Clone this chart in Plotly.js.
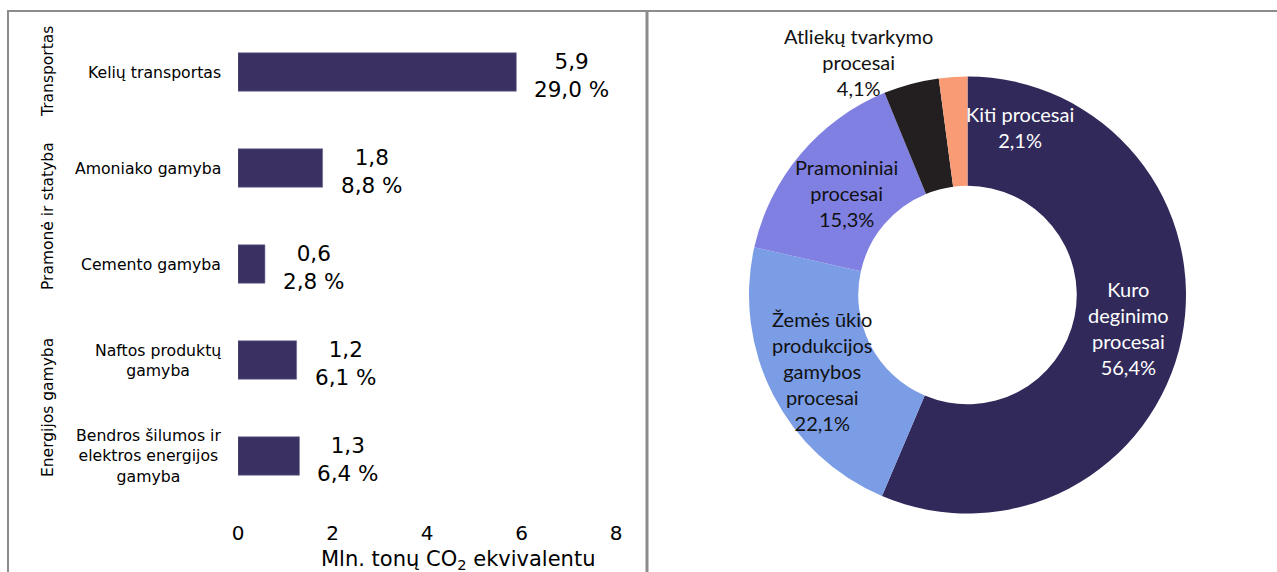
<!DOCTYPE html>
<html>
<head>
<meta charset="utf-8">
<script src="https://cdn.plot.ly/plotly-3.0.1.min.js"></script>
<style>html,body{margin:0;padding:0;background:#fff;}#chart{width:1277px;height:572px;}</style>
</head>
<body>
<div id="chart"></div>
<script>
// ---- Data: left bar chart ----
const categories = ['Kelių transportas', 'Amoniako gamyba', 'Cemento gamyba', 'Naftos produktų<br>gamyba', 'Bendros šilumos ir<br>elektros energijos<br>gamyba'];
const emissions = [5.89, 1.79, 0.57, 1.24, 1.30];      // Mln. tonų CO2 ekv.
const shares = [29.0, 8.8, 2.8, 6.1, 6.4];              // %
const groups = ['Transportas', 'Pramonė ir statyba', 'Energijos gamyba'];
const groupMembers = [[0, 0], [1, 2], [3, 4]];          // first and last category index of each group
const xTickVals = [0, 2, 4, 6, 8];
const xTitle = 'Mln. tonų CO<sub>2</sub> ekvivalentu';

// ---- Data: right donut chart ----
const pieLabels = ['Kuro<br>deginimo<br>procesai', 'Žemės ūkio<br>produkcijos<br>gamybos<br>procesai', 'Pramoniniai<br>procesai', 'Atliekų tvarkymo<br>procesai', 'Kiti procesai'];
const pieShares = [56.4, 22.1, 15.3, 4.1, 2.1];

// ---- Layout helpers ----
const W = 1277, H = 572;
const px = x => x / W;
const py = y => (H - y) / H;
const fmt = v => v.toFixed(1).replace('.', ',');

const barColor = '#3a3162';
const pieColors = ['#30295a', '#7b9de6', '#8080e2', '#231f20', '#f99c76'];
const pieTextColors = ['#ffffff', '#111111', '#111111', '#111111', '#ffffff'];
// label centres (px) for pie labels
const pieLabelPos = [[1128, 328], [822, 371], [847, 193], [858, 62], [1020, 127]];

const barTrace = {
  type: 'bar',
  orientation: 'h',
  x: emissions,
  y: categories,
  width: 0.4,
  marker: {color: barColor, line: {color: '#6d6690', width: 0.6}},
  hoverinfo: 'none',
  xaxis: 'x', yaxis: 'y',
  showlegend: false
};

const pieTrace = {
  type: 'pie',
  values: pieShares,
  labels: pieLabels,
  sort: false,
  direction: 'clockwise',
  rotation: 0,
  hole: 0.5,
  marker: {colors: pieColors, line: {color: '#ffffff', width: 0}},
  textinfo: 'none',
  hoverinfo: 'none',
  showlegend: false,
  domain: {x: [px(749), px(1186)], y: [py(513.5), py(76.5)]}
};

const annotations = [];
// bar value labels
emissions.forEach((v, i) => {
  annotations.push({
    x: v, y: i, xref: 'x', yref: 'y',
    text: fmt(v) + '<br>' + fmt(shares[i]) + ' %',
    xanchor: 'left', yanchor: 'middle', xshift: 16, yshift: -3,
    align: 'center', showarrow: false,
    font: {family: 'DejaVu Sans, Verdana, sans-serif', size: 21.5, color: '#000'}
  });
});
// category labels
categories.forEach((c, i) => {
  annotations.push({
    x: px(223), y: i, xref: 'paper', yref: 'y',
    text: c, xanchor: 'right', yanchor: 'middle', align: 'center', showarrow: false,
    font: {family: 'DejaVu Sans, Verdana, sans-serif', size: 15.7, color: '#000'}
  });
});
// group labels
groups.forEach((g, k) => {
  annotations.push({
    x: px(48), y: (groupMembers[k][0] + groupMembers[k][1]) / 2, xref: 'paper', yref: 'y',
    text: g, textangle: -90, xanchor: 'center', yanchor: 'middle', showarrow: false,
    font: {family: 'DejaVu Sans, Verdana, sans-serif', size: 15.5, color: '#000'}
  });
});
// x-axis title
annotations.push({
  x: px(458), y: py(560), xref: 'paper', yref: 'paper',
  text: xTitle, xanchor: 'center', yanchor: 'middle', showarrow: false,
  font: {family: 'DejaVu Sans, Verdana, sans-serif', size: 21, color: '#000'}
});
// pie labels
pieLabels.forEach((l, i) => {
  annotations.push({
    x: px(pieLabelPos[i][0]), y: py(pieLabelPos[i][1]), xref: 'paper', yref: 'paper',
    text: l + '<br>' + fmt(pieShares[i]) + '%',
    xanchor: 'center', yanchor: 'middle', align: 'center', showarrow: false,
    font: {family: 'Lato, Carlito, Calibri, sans-serif', size: 20, color: pieTextColors[i]}
  });
});

const borderColor = '#8c8c8c';
const shapes = [
  {type: 'line', xref: 'paper', yref: 'paper', x0: px(7), x1: 1, y0: py(11), y1: py(11), line: {color: borderColor, width: 2}},
  {type: 'line', xref: 'paper', yref: 'paper', x0: px(8), x1: px(8), y0: py(11), y1: 0, line: {color: borderColor, width: 2}},
  {type: 'line', xref: 'paper', yref: 'paper', x0: px(647), x1: px(647), y0: py(11), y1: 0, line: {color: borderColor, width: 3}}
];

const layout = {
  width: W, height: H,
  margin: {l: 0, r: 0, t: 0, b: 0, pad: 0},
  paper_bgcolor: '#fff', plot_bgcolor: 'rgba(0,0,0,0)',
  xaxis: {
    domain: [px(238), px(616)], range: [0, 8],
    tickvals: xTickVals, ticktext: xTickVals.map(String),
    showgrid: false, zeroline: false, showline: false, ticks: '',
    ticklabelstandoff: 15,
    tickfont: {family: 'DejaVu Sans, Verdana, sans-serif', size: 20, color: '#000'},
    anchor: 'y', fixedrange: true
  },
  yaxis: {
    type: 'category', domain: [py(504), py(24)], range: [4.5, -0.5],
    showticklabels: false, showgrid: false, zeroline: false, showline: false, ticks: '',
    anchor: 'x', fixedrange: true
  },
  annotations: annotations,
  shapes: shapes,
  showlegend: false
};

Plotly.newPlot('chart', [barTrace, pieTrace], layout, {staticPlot: true, displayModeBar: false});
</script>
</body>
</html>
